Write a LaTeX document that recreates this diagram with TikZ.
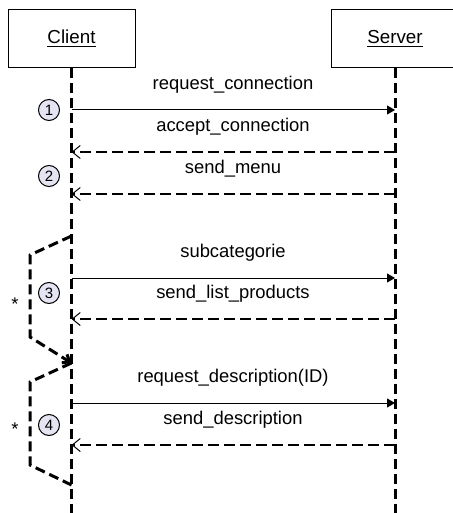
\documentclass[tikz,border=0pt]{standalone}
\usepackage{fontspec}
\setmainfont{Liberation Sans}
\usetikzlibrary{arrows.meta}
\definecolor{stepfill}{RGB}{228,228,242}
\tikzset{>=latex}
\tikzset{
  actor/.style={draw, line width=0.5pt, minimum width=63.5pt, minimum height=29pt,
                font=\fontsize{9.4}{11}\selectfont},
  lifeline/.style={line width=1.5pt, dash pattern=on 5pt off 2.5pt},
  call/.style={line width=0.5pt, -{Triangle[length=4pt,width=4.5pt]}},
  reply/.style={line width=1.2pt, dash pattern=on 5.5pt off 2.5pt,
                -{Straight Barb[length=4pt,width=6.5pt,line width=0.5pt]}},
  loopline/.style={line width=1.5pt, dash pattern=on 5pt off 2.5pt},
  msgtext/.style={font=\fontsize{9.2}{11}\selectfont},
  stepnum/.style={circle, draw, line width=0.5pt, fill=stepfill, inner sep=0pt,
                  minimum size=10.5pt, font=\fontsize{7.5}{8}\selectfont}
}

\begin{document}
\begin{tikzpicture}[x=0.5pt, y=-0.5pt]
\useasboundingbox (0,0) rectangle (452,513);
% actors
\node[actor] (client) at (71.5,39) {\underline{Client}};
\node[actor] (server) at (395,39) {\underline{Server}};
% lifelines
\coordinate (cend) at (71.5,513);
\coordinate (send) at (395,513);
\draw[lifeline] (client.south) -- (cend);
\draw[lifeline] (server.south) -- (send);
% calls client -> server
\foreach \y/\n/\txt in {110/1/request\_connection, 278/3/subcategorie,
                        403/5/request\_description(ID)} {
  \coordinate (c\n) at (71.5,\y);
  \coordinate (s\n) at (395,\y);
  \draw[call] (c\n) -- (s\n);
  \node[msgtext] (msg\n) at (233,\y-25) {\txt};
}
% replies server -> client
\foreach \y/\n/\txt in {152/2/accept\_connection, 194/4/send\_menu,
                        319/6/send\_list\_products, 445/7/send\_description} {
  \coordinate (c\n) at (71.5,\y);
  \coordinate (s\n) at (395,\y);
  \draw[reply] (s\n) -- (c\n);
  \node[msgtext] (msg\n) at (233,\y-25) {\txt};
}
% step numbers
\node[stepnum] (one) at (49,110) {1};
\node[stepnum] (two) at (49,176) {2};
\node[stepnum] (three) at (49,293) {3};
\node[stepnum] (four) at (49,425) {4};
% loops
\coordinate (loopa) at (71.5,236);
\coordinate (loopb) at (71.5,363);
\coordinate (loopc) at (71.5,485);
\draw[loopline, -{Straight Barb[length=3pt,width=5pt]}]
  (loopa) -- (30,255) -- (30,337) -- (loopb);
\draw[loopline] (loopb) -- (30,382) -- (30,465) -- (loopc);
\node[msgtext] (starone) at (15,304) {*};
\node[msgtext] (startwo) at (15,429) {*};
\end{tikzpicture}
\end{document}
